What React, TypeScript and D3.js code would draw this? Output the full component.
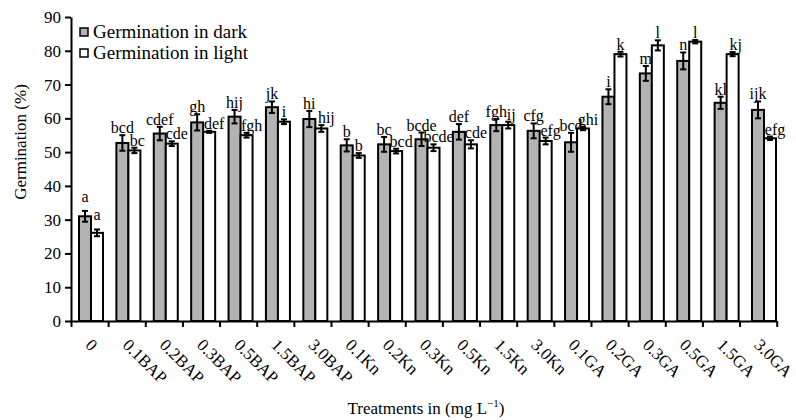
import React, { useRef, useEffect } from 'react';
import * as d3 from 'd3';

const categories = [
  '0', '0.1BAP', '0.2BAP', '0.3BAP', '0.5BAP', '1.5BAP', '3.0BAP',
  '0.1Kn', '0.2Kn', '0.3Kn', '0.5Kn', '1.5Kn', '3.0Kn',
  '0.1GA', '0.2GA', '0.3GA', '0.5GA', '1.5GA', '3.0GA',
];
const darkValues = [31.0, 52.7, 55.5, 58.8, 60.5, 63.3, 59.8, 52.0, 52.3, 53.8, 56.0, 58.0, 56.3, 52.9, 66.4, 73.3, 77.0, 64.6, 62.5];
const darkErrors = [1.6, 2.3, 2.0, 2.4, 2.0, 1.7, 2.4, 1.8, 2.2, 2.0, 2.3, 1.8, 2.2, 2.8, 2.2, 2.2, 2.5, 1.8, 2.5];
const darkLetters = ['a', 'bcd', 'cdef', 'gh', 'hij', 'jk', 'hi', 'b', 'bc', 'bcde', 'def', 'fgh', 'cfg', 'bcd', 'i', 'm', 'n', 'kl', 'ijk'];
const lightValues = [26.1, 50.5, 52.5, 56.0, 55.0, 59.0, 57.0, 49.0, 50.3, 51.3, 52.3, 58.0, 53.3, 57.0, 79.0, 81.6, 82.7, 79.0, 54.1];
const lightErrors = [1.0, 0.8, 0.7, 0.3, 0.7, 0.7, 1.0, 0.7, 0.7, 1.0, 1.2, 1.0, 1.0, 0.5, 0.7, 1.5, 0.5, 0.6, 0.5];
const lightLetters = ['a', 'bc', 'cde', 'def', 'fgh', 'i', 'hij', 'b', 'bcd', 'bcde', 'cde', 'ij', 'efg', 'ghi', 'k', 'l', 'l', 'kj', 'efg'];
const yTicks = [0, 10, 20, 30, 40, 50, 60, 70, 80, 90];
const legendLabels = ['Germination in dark', 'Germination in light'];

const FONT = "'Liberation Serif', 'Times New Roman', serif";
const GRAY = '#b3b3b3';

const App = () => {
  const svgRef = useRef<SVGSVGElement>(null);

  useEffect(() => {
    const svg = d3.select(svgRef.current).attr('width', 796).attr('height', 420);
    svg.selectAll('*').remove();

    const left = 71;
    const right = 776.7;
    const top = 17;
    const bottom = 321;

    // y 스케일
    const y = d3.scaleLinear().domain([0, 90]).range([bottom, top]);

    // x: 눈금용 / 막대용 (원본 그림에서 막대가 조금씩 밀려 있음)
    const xTick = d3.scaleBand().domain(categories).range([left, right]);
    const xBar = d3.scaleBand().domain(categories).range([72.3, 782.7]);
    const barW = 12;

    const g = svg.append('g');

    // 막대
    const series = [
      { values: darkValues, errors: darkErrors, letters: darkLetters, fill: GRAY, off: -barW, light: false },
      { values: lightValues, errors: lightErrors, letters: lightLetters, fill: '#fff', off: 0, light: true },
    ];

    series.forEach(s => {
      const cx = (i: number) => xBar(categories[i])! + xBar.bandwidth() / 2 + s.off;
      g.selectAll(null)
        .data(s.values)
        .enter()
        .append('rect')
        .attr('x', (d, i) => cx(i))
        .attr('y', d => y(d))
        .attr('width', barW)
        .attr('height', d => bottom - y(d))
        .attr('fill', s.fill)
        .attr('stroke', '#000')
        .attr('stroke-width', 2);

      // 오차 막대 + 문자
      s.values.forEach((v, i) => {
        const mx = cx(i) + barW / 2;
        const e = s.errors[i];
        g.append('line').attr('x1', mx).attr('x2', mx).attr('y1', y(v - e)).attr('y2', y(v + e))
          .attr('stroke', '#000').attr('stroke-width', 2);
        [v - e, v + e].forEach(t => {
          g.append('line').attr('x1', mx - 3).attr('x2', mx + 3).attr('y1', y(t)).attr('y2', y(t))
            .attr('stroke', '#000').attr('stroke-width', 2);
        });
        const letter = s.letters[i];
        const dx = s.light ? (letter.length >= 3 ? 5 : letter.length === 2 ? 3 : 0) : 0;
        g.append('text')
          .attr('x', mx + dx)
          .attr('y', y(v + e) - (i === 0 ? 9 : 2))
          .attr('text-anchor', 'middle')
          .style('font-family', FONT)
          .style('font-size', '16px')
          .text(letter);
      });
    });

    // Y축
    const yAxis = svg.append('g')
      .attr('transform', `translate(${left},0)`)
      .call(d3.axisLeft(y).tickValues(yTicks).tickSize(6).tickSizeOuter(0).tickPadding(4));
    yAxis.select('.domain').attr('stroke-width', 2);
    yAxis.selectAll('.tick line').attr('stroke-width', 2);
    yAxis.selectAll('.tick text').style('font-family', FONT).style('font-size', '17px').attr('fill', '#000');

    // X축
    const xb = d3.scaleLinear().domain([0, categories.length]).range([left, right]);
    const xAxis = svg.append('g')
      .attr('transform', `translate(0,${bottom})`)
      .call(d3.axisBottom(xb).tickValues(d3.range(0, categories.length + 1)).tickSize(6).tickSizeOuter(0).tickFormat(() => ''));
    xAxis.select('.domain').attr('stroke-width', 2);
    xAxis.selectAll('.tick line').attr('stroke-width', 2);

    svg.append('g')
      .selectAll('text')
      .data(categories)
      .enter()
      .append('text')
      .attr('transform', d => `translate(${xTick(d)! + xTick.bandwidth() / 2 - 5},346) rotate(45)`)
      .style('font-family', FONT)
      .style('font-size', '17px')
      .text(d => d);

    // 축 제목
    const xt = svg.append('text')
      .attr('x', 426)
      .attr('y', 414)
      .attr('text-anchor', 'middle')
      .style('font-family', FONT)
      .style('font-size', '17px');
    xt.append('tspan').text('Treatments in (mg L');
    xt.append('tspan').attr('dy', -7).style('font-size', '11px').text('\u22121');
    xt.append('tspan').attr('dy', 7).text(')');

    svg.append('text')
      .attr('transform', 'translate(26,142) rotate(-90)')
      .attr('text-anchor', 'middle')
      .style('font-family', FONT)
      .style('font-size', '17px')
      .text('Germination (%)');

    // 범례
    const legend = svg.append('g');
    legendLabels.forEach((label, i) => {
      legend.append('rect')
        .attr('x', 80).attr('y', 28 + i * 21).attr('width', 8).attr('height', 8)
        .attr('fill', i === 0 ? GRAY : '#fff').attr('stroke', '#000').attr('stroke-width', 1.5);
      legend.append('text')
        .attr('x', 93).attr('y', 37.5 + i * 21)
        .style('font-family', FONT).style('font-size', '19px')
        .text(label);
    });
  }, []);

  return (
    <div style={{ position: 'absolute', left: 0, top: 0 }}>
      <svg ref={svgRef} style={{ display: 'block', background: '#fff' }}></svg>
    </div>
  );
};

export default App;
